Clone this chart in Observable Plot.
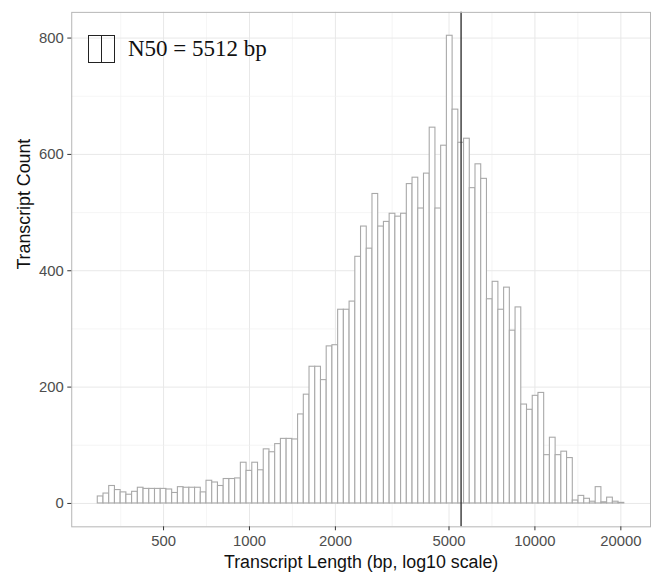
<!DOCTYPE html>
<html><head><meta charset="utf-8">
<script src="https://cdn.jsdelivr.net/npm/d3@7"></script>
<script src="https://cdn.jsdelivr.net/npm/@observablehq/plot@0.6"></script>
<style>
html,body{margin:0;padding:0;overflow:hidden;background:#fff;width:651px;height:573px}
#wrap{position:relative;width:651px;height:573px;overflow:hidden}
#legend{position:absolute;left:88px;top:35px;display:flex;align-items:center;font-family:"Liberation Serif","Times New Roman",serif;font-size:23px;color:#111;white-space:nowrap}
#legend .key{width:25px;height:26px;border:1.4px solid #222;position:relative;margin-right:13px}
#legend .key::after{content:"";position:absolute;left:12px;top:0;bottom:0;border-left:1.4px solid #222}
</style></head><body><div id="wrap"></div>
<script>
// histogram bins (log10 of bp): start and width
const binStartLog10 = 2.4685;
const binWidthLog10 = 0.02005;
// transcript counts per bin
const counts = [
  12, 17, 30, 23, 19, 15, 20, 27, 25, 25,
  25, 25, 24, 18, 28, 27, 27, 27, 19, 39,
  36, 30, 42, 42, 43, 70, 56, 70, 57, 93,
  88, 102, 111, 111, 110, 153, 187, 235, 235, 212,
  270, 272, 333, 333, 347, 424, 476, 438, 532, 476,
  484, 498, 493, 498, 549, 560, 507, 567, 646, 507,
  615, 804, 677, 620, 627, 542, 583, 558, 351, 381,
  333, 371, 297, 337, 170, 161, 185, 190, 83, 113,
  83, 89, 78, 5, 13, 8, 3, 28, 2, 10,
  3, 1
];
const n50 = 5512;
const xTicks = [500, 1000, 2000, 5000, 10000, 20000];
const xMinorTicks = [354, 707, 1414, 3162, 7071, 14142];
const yTicks = [0, 200, 400, 600, 800];
const yMinorTicks = [100, 300, 500, 700];
const xTitle = "Transcript Length (bp, log10 scale)";
const yTitle = "Transcript Count";
const legendLabel = "N50 = 5512 bp";

const bins = counts.map((c, i) => ({
  x1: 10 ** (binStartLog10 + i * binWidthLog10),
  x2: 10 ** (binStartLog10 + (i + 1) * binWidthLog10),
  count: c
}));

const chart = Plot.plot({
  width: 658,
  height: 573,
  marginLeft: 72,
  marginRight: 1,
  marginTop: 12,
  marginBottom: 41,
  style: {fontFamily: "'Liberation Sans', Arial, sans-serif", fontSize: "15px", background: "#fff", color: "#4d4d4d", overflow: "visible"},
  x: {type: "log", domain: [238.4, 25404]},
  y: {domain: [-40.2, 844.2]},
  marks: [
    Plot.gridX(xMinorTicks, {stroke: "#f1f1f1", strokeOpacity: 1, strokeWidth: 0.7}),
    Plot.gridX(xTicks, {stroke: "#e8e8e8", strokeOpacity: 1, strokeWidth: 1}),
    Plot.gridY(yMinorTicks, {stroke: "#f1f1f1", strokeOpacity: 1, strokeWidth: 0.7}),
    Plot.gridY(yTicks, {stroke: "#e8e8e8", strokeOpacity: 1, strokeWidth: 1}),
    Plot.rectY(bins, {x1: "x1", x2: "x2", y: "count", fill: "#fff", stroke: "#a8a8a8", strokeWidth: 1.1}),
    Plot.ruleX([n50], {stroke: "#333", strokeWidth: 1.4}),
    Plot.frame({stroke: "#b5b5b5"}),
    Plot.axisX(xTicks, {tickSize: 4, tickFormat: () => "", stroke: "#333", label: null}),
    Plot.text(xTicks, {x: d => d, text: d => String(d), frameAnchor: "bottom", lineAnchor: "top", dy: 9, fill: "#4d4d4d", fontSize: 15}),
    Plot.axisY(yTicks, {tickSize: 4, tickPadding: 4, stroke: "#333", fill: "#4d4d4d", label: null}),
    Plot.text([xTitle], {frameAnchor: "bottom", lineAnchor: "bottom", dy: 42, fontSize: 18, fill: "#111"}),
    Plot.text([yTitle], {frameAnchor: "left", lineAnchor: "bottom", rotate: -90, dx: -42, fontSize: 18, fill: "#111"})
  ]
});

const wrap = document.getElementById("wrap");
wrap.appendChild(chart);
const legend = document.createElement("div");
legend.id = "legend";
legend.innerHTML = '<div class="key"></div><span></span>';
legend.querySelector("span").textContent = legendLabel;
wrap.appendChild(legend);
</script>
</body></html>
